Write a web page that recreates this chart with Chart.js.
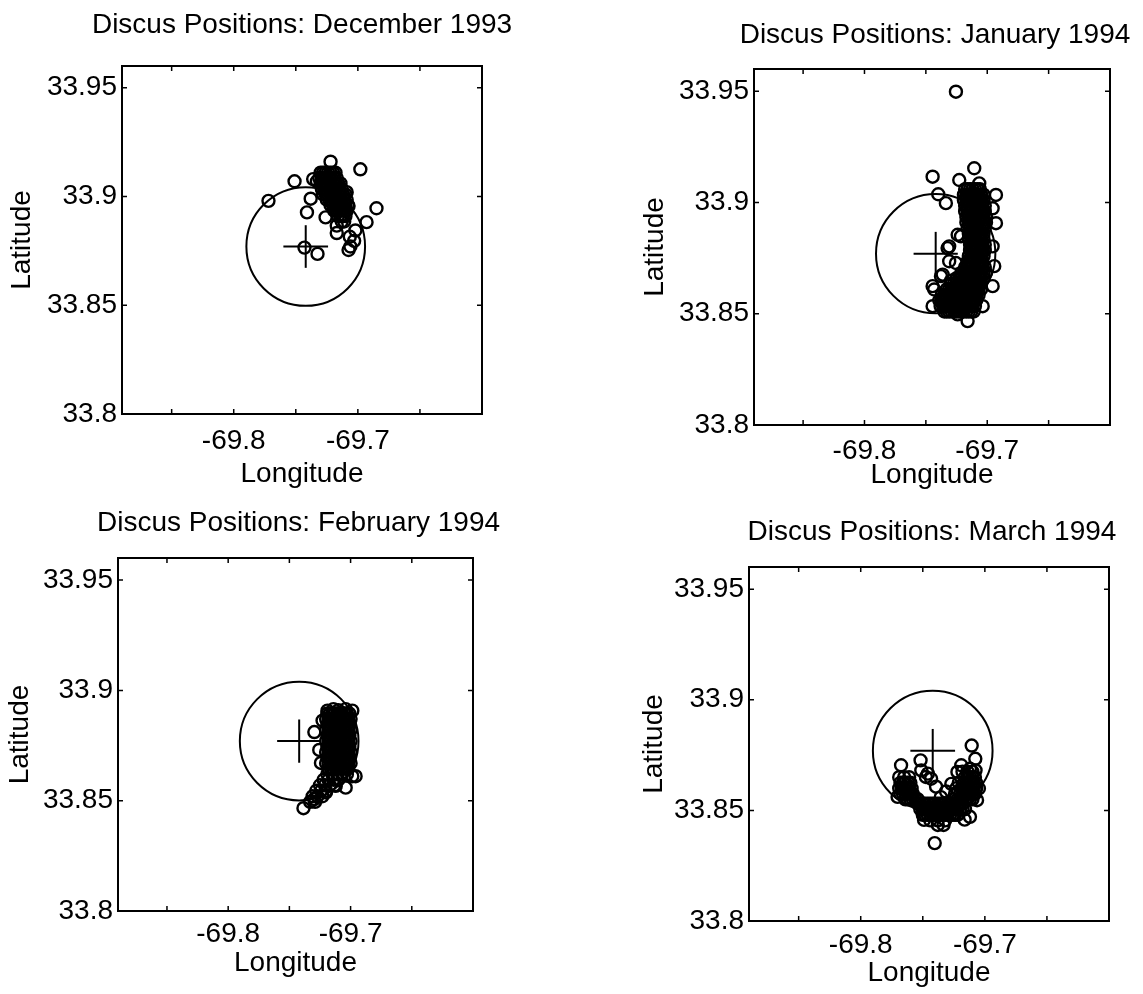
<!DOCTYPE html>
<html lang="en">
  <head>
    <meta charset="UTF-8" />
    <title>Discus Positions</title>
    <style>
      body {
        margin: 0;
        width: 1143px;
        height: 994px;
        overflow: hidden;
        position: relative;
        background: #fff;
      }
      canvas {
        position: absolute;
      }
    </style>
    <script src="https://cdn.jsdelivr.net/npm/chart.js"></script>
  </head>
  <body>
    <canvas id="dec"></canvas>
    <canvas id="jan"></canvas>
    <canvas id="feb"></canvas>
    <canvas id="mar"></canvas>
    <script>
      // axes
      const lonRange = [-69.89, -69.6];
      const latRange = [33.8, 33.96];
      const lonLabels = [-69.8, -69.7];
      const lonMarks = [-69.85, -69.8, -69.75, -69.7, -69.65];
      const latLabels = [33.8, 33.85, 33.9, 33.95];

      // mooring position, watch circle (lon, lat radius) and cross arms
      const buoyCentre = [-69.742, 33.877];
      const watchRadius = [0.049, 0.0266];
      const crossArm = [0.018, 0.0098];

      // dense clusters: [lat, lon, lon, ...]
      const decRows = [
        [33.911, -69.73, -69.728, -69.726, -69.724, -69.722, -69.72, -69.718],
        [33.9085, -69.731, -69.729, -69.727, -69.725, -69.723, -69.721, -69.719, -69.717],
        [33.906, -69.73, -69.728, -69.726, -69.724, -69.722, -69.72, -69.718, -69.716, -69.714],
        [33.9035, -69.729, -69.727, -69.725, -69.723, -69.721, -69.719, -69.717, -69.715, -69.713],
        [33.901, -69.728, -69.726, -69.724, -69.722, -69.72, -69.718, -69.716, -69.714, -69.712, -69.71],
        [33.8985, -69.725, -69.723, -69.721, -69.719, -69.717, -69.715, -69.713, -69.711, -69.709],
        [33.896, -69.722, -69.72, -69.718, -69.716, -69.714, -69.712, -69.71, -69.708],
        [33.8935, -69.719, -69.717, -69.715, -69.713, -69.711, -69.709],
        [33.891, -69.716, -69.714, -69.712, -69.71],
        [33.8885, -69.713, -69.711],
      ];
      // single fixes: [lon, lat]
      const decFixes = [
        [-69.772, 33.898], [-69.751, 33.907], [-69.736, 33.908], [-69.733, 33.907],
        [-69.722, 33.916], [-69.698, 33.9125], [-69.738, 33.899], [-69.741, 33.8927],
        [-69.726, 33.8904], [-69.685, 33.8946], [-69.693, 33.8882], [-69.717, 33.8832],
        [-69.702, 33.8844], [-69.703, 33.8796], [-69.7075, 33.8754], [-69.706, 33.877],
        [-69.743, 33.8765], [-69.7325, 33.8736], [-69.709, 33.902], [-69.7075, 33.8956],
        [-69.717, 33.8866], [-69.7065, 33.8815],
      ];

      const janRows = [
        [33.906, -69.718, -69.716, -69.714, -69.712, -69.71, -69.708, -69.706],
        [33.9035, -69.719, -69.717, -69.715, -69.713, -69.711, -69.709, -69.707, -69.705, -69.703],
        [33.901, -69.719, -69.717, -69.715, -69.713, -69.711, -69.709, -69.707, -69.705, -69.703],
        [33.8985, -69.718, -69.716, -69.714, -69.712, -69.71, -69.708, -69.706, -69.704, -69.702],
        [33.896, -69.718, -69.716, -69.714, -69.712, -69.71, -69.708, -69.706, -69.704, -69.702],
        [33.8935, -69.717, -69.715, -69.713, -69.711, -69.709, -69.707, -69.705, -69.703, -69.701],
        [33.891, -69.717, -69.715, -69.713, -69.711, -69.709, -69.707, -69.705, -69.703, -69.701],
        [33.8885, -69.716, -69.714, -69.712, -69.71, -69.708, -69.706, -69.704, -69.702],
        [33.886, -69.715, -69.713, -69.711, -69.709, -69.707, -69.705, -69.703],
        [33.8835, -69.715, -69.713, -69.711, -69.709, -69.707, -69.705, -69.703],
        [33.881, -69.714, -69.712, -69.71, -69.708, -69.706, -69.704, -69.702],
        [33.8785, -69.714, -69.712, -69.71, -69.708, -69.706, -69.704, -69.702],
        [33.876, -69.715, -69.713, -69.711, -69.709, -69.707, -69.705, -69.703],
        [33.8735, -69.716, -69.714, -69.712, -69.71, -69.708, -69.706, -69.704],
        [33.871, -69.718, -69.716, -69.714, -69.712, -69.71, -69.708, -69.706, -69.704, -69.702],
        [33.8685, -69.721, -69.719, -69.717, -69.715, -69.713, -69.711, -69.709, -69.707, -69.705, -69.703, -69.701],
        [33.866, -69.725, -69.723, -69.721, -69.719, -69.717, -69.715, -69.713, -69.711, -69.709, -69.707, -69.705, -69.703],
        [33.8635, -69.729, -69.727, -69.725, -69.723, -69.721, -69.719, -69.717, -69.715, -69.713, -69.711, -69.709, -69.707, -69.705],
        [33.861, -69.733, -69.731, -69.729, -69.727, -69.725, -69.723, -69.721, -69.719, -69.717, -69.715, -69.713, -69.711, -69.709, -69.707, -69.705],
        [33.8585, -69.737, -69.735, -69.733, -69.731, -69.729, -69.727, -69.725, -69.723, -69.721, -69.719, -69.717, -69.715, -69.713, -69.711, -69.709, -69.707],
        [33.856, -69.739, -69.737, -69.735, -69.733, -69.731, -69.729, -69.727, -69.725, -69.723, -69.721, -69.719, -69.717, -69.715, -69.713, -69.711, -69.709],
        [33.8535, -69.738, -69.736, -69.734, -69.732, -69.73, -69.728, -69.726, -69.724, -69.722, -69.72, -69.718, -69.716, -69.714, -69.712, -69.71],
        [33.851, -69.735, -69.733, -69.731, -69.729, -69.727, -69.725, -69.723, -69.721, -69.719, -69.717, -69.715, -69.713, -69.711],
      ];
      const janFixes = [
        [-69.7445, 33.9116], [-69.7399, 33.9037], [-69.7337, 33.8997], [-69.7106, 33.9154],
        [-69.7065, 33.9086], [-69.7228, 33.9101], [-69.6929, 33.9034], [-69.6956, 33.8974],
        [-69.6929, 33.8907], [-69.6956, 33.8803], [-69.6943, 33.8714], [-69.6956, 33.8624],
        [-69.7037, 33.8534], [-69.716, 33.8467], [-69.7241, 33.8497], [-69.7445, 33.8534],
        [-69.7445, 33.8624], [-69.7363, 33.8676], [-69.731, 33.8736], [-69.731, 33.8803],
        [-69.7241, 33.8855], [-69.7255, 33.9498], [-69.7323, 33.8795], [-69.7255, 33.8728],
        [-69.7296, 33.8648], [-69.7377, 33.8669], [-69.7432, 33.8609], [-69.7214, 33.8848],
      ];

      const febRows = [
        [33.8895, -69.719, -69.717, -69.715, -69.713, -69.711, -69.709, -69.707, -69.705, -69.703, -69.701],
        [33.887, -69.72, -69.718, -69.716, -69.714, -69.712, -69.71, -69.708, -69.706, -69.704, -69.702, -69.7],
        [33.8845, -69.719, -69.717, -69.715, -69.713, -69.711, -69.709, -69.707, -69.705, -69.703, -69.701],
        [33.882, -69.72, -69.718, -69.716, -69.714, -69.712, -69.71, -69.708, -69.706, -69.704, -69.702, -69.7],
        [33.8795, -69.719, -69.717, -69.715, -69.713, -69.711, -69.709, -69.707, -69.705, -69.703, -69.701],
        [33.877, -69.72, -69.718, -69.716, -69.714, -69.712, -69.71, -69.708, -69.706, -69.704, -69.702, -69.7],
        [33.8745, -69.719, -69.717, -69.715, -69.713, -69.711, -69.709, -69.707, -69.705, -69.703, -69.701],
        [33.872, -69.72, -69.718, -69.716, -69.714, -69.712, -69.71, -69.708, -69.706, -69.704, -69.702, -69.7],
        [33.8695, -69.719, -69.717, -69.715, -69.713, -69.711, -69.709, -69.707, -69.705, -69.703, -69.701],
        [33.867, -69.72, -69.718, -69.716, -69.714, -69.712, -69.71, -69.708, -69.706, -69.704, -69.702, -69.7],
        [33.8645, -69.718, -69.716, -69.714, -69.712, -69.71, -69.708, -69.706, -69.704, -69.702],
        [33.862, -69.719, -69.715, -69.711, -69.707, -69.703],
        [33.8595, -69.722, -69.718, -69.714, -69.71],
        [33.857, -69.725, -69.721, -69.717, -69.713],
        [33.8545, -69.728, -69.724, -69.72],
        [33.852, -69.731, -69.727, -69.723],
        [33.8495, -69.733, -69.729],
      ];
      const febFixes = [
        [-69.7385, 33.8466], [-69.7296, 33.8507], [-69.7201, 33.8537], [-69.7121, 33.8567],
        [-69.704, 33.8559], [-69.6986, 33.8611], [-69.7296, 33.8811], [-69.7189, 33.8908],
        [-69.704, 33.8915], [-69.6986, 33.8908], [-69.7229, 33.8863], [-69.7256, 33.873],
        [-69.7242, 33.8671], [-69.6959, 33.8611], [-69.71, 33.891], [-69.714, 33.8915],
      ];

      const marRows = [
        [33.865, -69.769, -69.765, -69.761],
        [33.8625, -69.768, -69.766, -69.764, -69.762, -69.76],
        [33.86, -69.769, -69.767, -69.765, -69.763, -69.761, -69.759],
        [33.8575, -69.768, -69.766, -69.764, -69.762, -69.76, -69.758],
        [33.855, -69.764, -69.762, -69.76, -69.758, -69.756, -69.754],
        [33.853, -69.754, -69.752, -69.75, -69.748, -69.746, -69.744, -69.742, -69.74, -69.738, -69.736,
          -69.734, -69.732, -69.73, -69.728, -69.726, -69.724, -69.722, -69.72, -69.718],
        [33.8505, -69.752, -69.75, -69.748, -69.746, -69.744, -69.742, -69.74, -69.738, -69.736, -69.734,
          -69.732, -69.73, -69.728, -69.726, -69.724, -69.722, -69.72, -69.718, -69.716],
        [33.848, -69.75, -69.748, -69.746, -69.744, -69.742, -69.74, -69.738, -69.736, -69.734, -69.732,
          -69.73, -69.728, -69.726, -69.724, -69.722],
        [33.8455, -69.744, -69.738, -69.732],
        [33.8675, -69.718, -69.714, -69.71],
        [33.865, -69.716, -69.714, -69.712, -69.71, -69.708],
        [33.8625, -69.721, -69.717, -69.715, -69.713, -69.711, -69.709, -69.707],
        [33.86, -69.723, -69.719, -69.717, -69.715, -69.713, -69.711, -69.709, -69.707],
        [33.8575, -69.724, -69.72, -69.718, -69.716, -69.714, -69.712, -69.71, -69.708],
        [33.855, -69.726, -69.722, -69.72, -69.718, -69.716, -69.714, -69.712, -69.71],
      ];
      const marFixes = [
        [-69.7675, 33.8704], [-69.7106, 33.8793], [-69.7077, 33.8733], [-69.712, 33.8688],
        [-69.719, 33.8704], [-69.7518, 33.8726], [-69.7475, 33.8651], [-69.7163, 33.8458],
        [-69.7333, 33.8434], [-69.749, 33.8457], [-69.7703, 33.8561], [-69.7048, 33.8599],
        [-69.7063, 33.8546], [-69.712, 33.8471], [-69.7075, 33.8681], [-69.7221, 33.8674],
        [-69.7459, 33.8666], [-69.7512, 33.8681], [-69.7433, 33.8643], [-69.7379, 33.8434],
        [-69.7404, 33.8352], [-69.7393, 33.8607], [-69.7313, 33.8585], [-69.727, 33.862],
        [-69.7355, 33.856],
      ];

      const FONT = "'Liberation Sans', Arial, Helvetica, sans-serif";
      const FS = 28;
      const LH = FS * 1.2;

      // plot boxes in page pixels
      const panels = [
        { id: "dec", month: "December 1993", rows: decRows, fixes: decFixes,
          box: [122, 66, 482, 414], titleGap: 41, shift: 0, yw: 117, xh: 77, pad: 10 },
        { id: "jan", month: "January 1994", rows: janRows, fixes: janFixes,
          box: [754, 69, 1110, 425], titleGap: 34, shift: 3, yw: 116, xh: 67, pad: 9 },
        { id: "feb", month: "February 1994", rows: febRows, fixes: febFixes,
          box: [118, 558, 473, 911], titleGap: 35, shift: 3, yw: 115, xh: 69, pad: 6 },
        { id: "mar", month: "March 1994", rows: marRows, fixes: marFixes,
          box: [749, 567, 1109, 921], titleGap: 35, shift: 3, yw: 112, xh: 69, pad: 7 },
      ];

      const frame = {
        id: "frame",
        afterDatasetsDraw(chart) {
          const { ctx, chartArea: a, scales } = chart;
          ctx.save();
          ctx.strokeStyle = "#000";
          ctx.lineWidth = 2;
          ctx.strokeRect(a.left, a.top, a.right - a.left, a.bottom - a.top);
          ctx.lineWidth = 1.5;
          ctx.beginPath();
          lonMarks.forEach((v) => {
            const px = scales.x.getPixelForValue(v);
            ctx.moveTo(px, a.bottom);
            ctx.lineTo(px, a.bottom - 5);
            ctx.moveTo(px, a.top);
            ctx.lineTo(px, a.top + 5);
          });
          latLabels.forEach((v) => {
            const py = scales.y.getPixelForValue(v);
            ctx.moveTo(a.left, py);
            ctx.lineTo(a.left + 5, py);
            ctx.moveTo(a.right, py);
            ctx.lineTo(a.right - 5, py);
          });
          ctx.stroke();
          ctx.restore();
        },
      };

      function circleRadius(ctx) {
        const s = ctx.chart.scales;
        if (!s.x || !s.y) return 0;
        const rx = s.x.getPixelForValue(buoyCentre[0] + watchRadius[0]) - s.x.getPixelForValue(buoyCentre[0]);
        const ry = s.y.getPixelForValue(buoyCentre[1]) - s.y.getPixelForValue(buoyCentre[1] + watchRadius[1]);
        return (rx + ry) / 2;
      }

      panels.forEach((p) => {
        const [L, T, R, B] = p.box;
        const titleBottom = p.titleGap - LH / 2;
        const titleH = Math.ceil(LH + titleBottom + 3);
        const titleTop = titleH - LH - titleBottom;
        const rightW = p.yw + 2 * p.shift;
        const canvas = document.getElementById(p.id);
        canvas.width = p.yw + (R - L) + rightW;
        canvas.height = titleH + (B - T) + p.xh;
        canvas.style.left = L - p.yw + "px";
        canvas.style.top = T - titleH + "px";

        const points = p.rows
          .flatMap((r) => r.slice(1).map((lon) => ({ x: lon, y: r[0] })))
          .concat(p.fixes.map((f) => ({ x: f[0], y: f[1] })));

        const font = { family: FONT, size: FS, weight: "normal", lineHeight: 1.2 };

        new Chart(canvas, {
          type: "scatter",
          data: {
            datasets: [
              {
                data: [{ x: buoyCentre[0], y: buoyCentre[1] }],
                pointRadius: circleRadius,
                borderWidth: 2,
                borderColor: "#000",
                backgroundColor: "rgba(0,0,0,0)",
              },
              {
                data: [
                  { x: buoyCentre[0] - crossArm[0], y: buoyCentre[1] },
                  { x: buoyCentre[0] + crossArm[0], y: buoyCentre[1] },
                ],
                showLine: true,
                pointRadius: 0,
                borderWidth: 2,
                borderColor: "#000",
              },
              {
                data: [
                  { x: buoyCentre[0], y: buoyCentre[1] - crossArm[1] },
                  { x: buoyCentre[0], y: buoyCentre[1] + crossArm[1] },
                ],
                showLine: true,
                pointRadius: 0,
                borderWidth: 2,
                borderColor: "#000",
              },
              {
                data: points,
                pointRadius: 6,
                borderWidth: 2.4,
                borderColor: "#000",
                backgroundColor: "rgba(0,0,0,0)",
              },
            ],
          },
          options: {
            responsive: false,
            devicePixelRatio: 1,
            animation: false,
            events: [],
            layout: { padding: 0 },
            plugins: {
              legend: { display: false },
              tooltip: { enabled: false },
              title: {
                display: true,
                text: "Discus Positions: " + p.month,
                color: "#000",
                font: font,
                padding: { top: titleTop, bottom: titleBottom },
              },
            },
            scales: {
              x: {
                type: "linear",
                min: lonRange[0],
                max: lonRange[1],
                afterBuildTicks: (s) => {
                  s.ticks = lonLabels.map((v) => ({ value: v }));
                },
                afterFit: (s) => {
                  s.height = p.xh;
                },
                ticks: {
                  callback: (v) => String(v),
                  color: "#000",
                  font: font,
                  padding: p.pad,
                  maxRotation: 0,
                  autoSkip: false,
                },
                grid: { display: false, drawTicks: false },
                border: { display: false },
                title: {
                  display: true,
                  text: "Longitude",
                  color: "#000",
                  font: font,
                  padding: { top: 0, bottom: 0 },
                },
              },
              y: {
                type: "linear",
                min: latRange[0],
                max: latRange[1],
                afterBuildTicks: (s) => {
                  s.ticks = latLabels.map((v) => ({ value: v }));
                },
                afterFit: (s) => {
                  s.width = p.yw;
                },
                ticks: {
                  callback: (v) => String(v),
                  color: "#000",
                  font: font,
                  padding: 5,
                  autoSkip: false,
                },
                grid: { display: false, drawTicks: false },
                border: { display: false },
                title: {
                  display: true,
                  text: "Latitude",
                  color: "#000",
                  font: font,
                  padding: { top: 0, bottom: 0 },
                },
              },
              // empty right-hand band so the title centres over the plot box
              yRight: {
                type: "linear",
                position: "right",
                min: latRange[0],
                max: latRange[1],
                afterFit: (s) => {
                  s.width = rightW;
                },
                ticks: { display: false },
                grid: { display: false, drawTicks: false },
                border: { display: false },
              },
            },
          },
          plugins: [frame],
        });
      });
    </script>
  </body>
</html>
